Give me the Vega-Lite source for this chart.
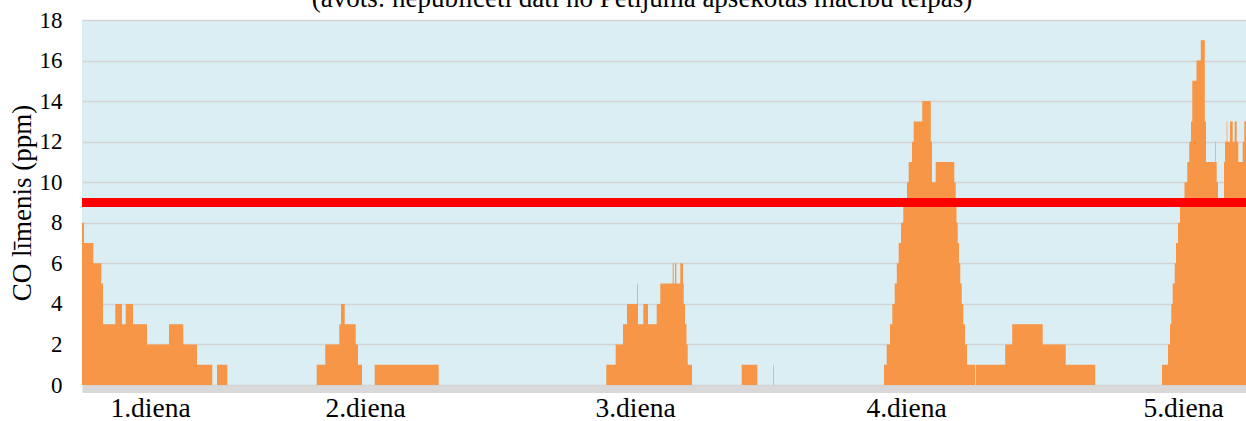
{
  "$schema": "https://vega.github.io/schema/vega-lite/v6.json",
  "width": 1164,
  "height": 365,
  "autosize": {"type": "none"},
  "padding": {"left": 82, "top": 20, "right": 0, "bottom": 36},
  "background": "#ffffff",
  "title": {
    "text": "(avots: nepublicēti dati no Pētījuma apsekotās mācību telpas)",
    "font": "Liberation Serif",
    "fontSize": 27,
    "fontWeight": "normal",
    "color": "#000000",
    "anchor": "middle",
    "frame": "group",
    "baseline": "alphabetic",
    "offset": 0,
    "dx": -22,
    "dy": 25
  },
  "config": {
    "view": {"fill": "#daeef3", "stroke": null}
  },
  "layer": [
    {
      "data": {
        "values": [
          {"t": 0, "v": 8}, {"t": 2, "v": 7}, {"t": 11.3, "v": 6}, {"t": 19.3, "v": 5}, {"t": 21, "v": 3}, {"t": 33.3, "v": 4}, {"t": 40, "v": 3}, {"t": 43.7, "v": 4}, {"t": 51, "v": 3}, {"t": 65, "v": 2}, {"t": 87, "v": 3}, {"t": 101.3, "v": 2}, {"t": 115, "v": 1}, {"t": 130.3, "v": 0}, {"t": 135, "v": 1}, {"t": 145.3, "v": 0},
          {"t": 234.7, "v": 1}, {"t": 243.3, "v": 2}, {"t": 257.3, "v": 3}, {"t": 259, "v": 4}, {"t": 262.7, "v": 3}, {"t": 273.7, "v": 2}, {"t": 276, "v": 1}, {"t": 280, "v": 0}, {"t": 292.7, "v": 1}, {"t": 356.7, "v": 0},
          {"t": 524.3, "v": 1}, {"t": 533.7, "v": 2}, {"t": 541, "v": 3}, {"t": 545, "v": 4}, {"t": 555.3, "v": 5}, {"t": 556, "v": 3}, {"t": 561.3, "v": 4}, {"t": 566, "v": 3}, {"t": 574.7, "v": 4}, {"t": 578.3, "v": 5}, {"t": 590.7, "v": 6}, {"t": 591.7, "v": 5}, {"t": 593, "v": 6}, {"t": 594.3, "v": 5}, {"t": 598.3, "v": 6}, {"t": 601, "v": 5}, {"t": 601.7, "v": 4}, {"t": 603, "v": 3}, {"t": 604.5, "v": 2}, {"t": 605.7, "v": 1}, {"t": 610, "v": 0}, {"t": 659.7, "v": 1}, {"t": 675.3, "v": 0}, {"t": 691, "v": 1}, {"t": 691.6, "v": 0},
          {"t": 802, "v": 1}, {"t": 804.7, "v": 2}, {"t": 808, "v": 3}, {"t": 810.3, "v": 4}, {"t": 812.7, "v": 5}, {"t": 814.8, "v": 6}, {"t": 816.7, "v": 7}, {"t": 819, "v": 8}, {"t": 821.3, "v": 9}, {"t": 825, "v": 10}, {"t": 826.7, "v": 11}, {"t": 830, "v": 12}, {"t": 831.7, "v": 13}, {"t": 840.3, "v": 14}, {"t": 848.8, "v": 12}, {"t": 850, "v": 10}, {"t": 853.7, "v": 11}, {"t": 872.3, "v": 10}, {"t": 873.7, "v": 9}, {"t": 874.5, "v": 8}, {"t": 875.7, "v": 7}, {"t": 877, "v": 6}, {"t": 878.3, "v": 5}, {"t": 879.7, "v": 4}, {"t": 881.3, "v": 3}, {"t": 883, "v": 2}, {"t": 885, "v": 1}, {"t": 893, "v": 0}, {"t": 893.7, "v": 1}, {"t": 923.2, "v": 2}, {"t": 930.2, "v": 3}, {"t": 960.7, "v": 2}, {"t": 983.7, "v": 1}, {"t": 1013.2, "v": 0},
          {"t": 1080, "v": 1}, {"t": 1086, "v": 2}, {"t": 1088, "v": 3}, {"t": 1089.3, "v": 4}, {"t": 1090.7, "v": 5}, {"t": 1092.7, "v": 6}, {"t": 1094, "v": 7}, {"t": 1096, "v": 8}, {"t": 1098, "v": 9}, {"t": 1102.5, "v": 10}, {"t": 1105.3, "v": 11}, {"t": 1107.3, "v": 12}, {"t": 1109, "v": 13}, {"t": 1110.3, "v": 15}, {"t": 1114.5, "v": 16}, {"t": 1118.8, "v": 17}, {"t": 1122.8, "v": 13}, {"t": 1124, "v": 11}, {"t": 1133.3, "v": 12}, {"t": 1133.9, "v": 11}, {"t": 1134.7, "v": 10}, {"t": 1136, "v": 9}, {"t": 1142, "v": 11}, {"t": 1143, "v": 12}, {"t": 1144.7, "v": 13}, {"t": 1145.3, "v": 12}, {"t": 1148, "v": 13}, {"t": 1150.7, "v": 12}, {"t": 1152.7, "v": 13}, {"t": 1154.7, "v": 12}, {"t": 1156.3, "v": 11}, {"t": 1160.7, "v": 12}, {"t": 1162.3, "v": 13}, {"t": 1164, "v": 13}
        ]
      },
      "mark": {"type": "area", "interpolate": "step-after", "color": "#f79646", "opacity": 1},
      "encoding": {
        "x": {
          "field": "t",
          "type": "quantitative",
          "scale": {"domain": [0, 1164], "nice": false, "zero": false},
          "axis": {
            "title": null,
            "values": [68, 283, 553, 824, 1101],
            "labelExpr": "datum.value == 68 ? '1.diena' : datum.value == 283 ? '2.diena' : datum.value == 553 ? '3.diena' : datum.value == 824 ? '4.diena' : '5.diena'",
            "grid": false,
            "ticks": false,
            "tickSize": 0,
            "domain": true,
            "domainColor": "#d9d9d9",
            "domainWidth": 7,
            "offset": 4,
            "labelFont": "Liberation Serif",
            "labelFontSize": 27.5,
            "labelColor": "#000000",
            "labelPadding": 5,
            "labelFlush": false,
            "labelOverlap": false
          }
        },
        "y": {
          "field": "v",
          "type": "quantitative",
          "scale": {"domain": [0, 18], "nice": false},
          "axis": {
            "title": "CO līmenis (ppm)",
            "titleFont": "Liberation Serif",
            "titleFontSize": 27,
            "titleFontWeight": "normal",
            "titleColor": "#000000",
            "titleAngle": 270,
            "titleX": -60,
            "titleY": 182.5,
            "titleAlign": "center",
            "titleBaseline": "middle",
            "values": [0, 2, 4, 6, 8, 10, 12, 14, 16, 18],
            "grid": true,
            "gridColor": "#d4d4d4",
            "gridWidth": 1.5,
            "domain": false,
            "ticks": false,
            "tickSize": 0,
            "labelFont": "Liberation Serif",
            "labelFontSize": 23,
            "labelColor": "#000000",
            "labelPadding": 20,
            "labelBaseline": "middle"
          }
        }
      }
    },
    {
      "data": {"values": [{"lim": 9}]},
      "mark": {"type": "rule", "color": "#ff0000", "strokeWidth": 9},
      "encoding": {"y": {"field": "lim", "type": "quantitative"}}
    }
  ]
}
